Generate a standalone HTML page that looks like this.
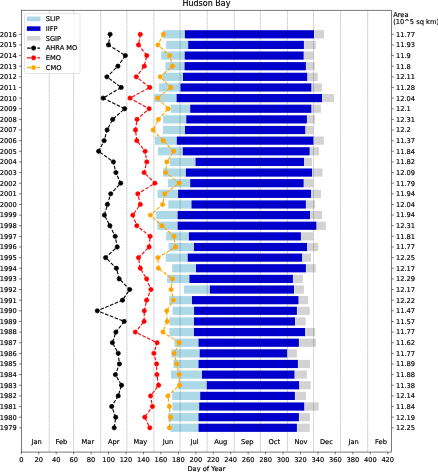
<!DOCTYPE html>
<html><head><meta charset="utf-8"><title>Hudson Bay</title>
<style>html,body{margin:0;padding:0;background:#fff;overflow:hidden}svg{display:block}</style>
</head><body>
<svg width="438" height="472" viewBox="0 0 438 472" font-family="'DejaVu Sans', 'Liberation Sans', sans-serif" font-size="6.68" fill="#000"><style>text{stroke:#000;stroke-width:0.16px;stroke-linejoin:round}</style>
<rect width="438" height="472" fill="#fff"/>
<g shape-rendering="geometricPrecision">
<rect x="162.90" y="30.20" width="22.00" height="8.2" fill="#add8e6"/>
<rect x="184.90" y="30.20" width="129.10" height="8.2" fill="#0000cd"/>
<rect x="314.25" y="30.20" width="9.75" height="8.2" fill="#d3d3d3"/>
<rect x="166.20" y="40.83" width="22.00" height="8.2" fill="#add8e6"/>
<rect x="188.20" y="40.83" width="115.70" height="8.2" fill="#0000cd"/>
<rect x="304.15" y="40.83" width="11.65" height="8.2" fill="#d3d3d3"/>
<rect x="161.20" y="51.47" width="23.55" height="8.2" fill="#add8e6"/>
<rect x="184.75" y="51.47" width="118.95" height="8.2" fill="#0000cd"/>
<rect x="303.95" y="51.47" width="9.65" height="8.2" fill="#d3d3d3"/>
<rect x="165.40" y="62.10" width="19.15" height="8.2" fill="#add8e6"/>
<rect x="184.55" y="62.10" width="121.35" height="8.2" fill="#0000cd"/>
<rect x="306.15" y="62.10" width="8.55" height="8.2" fill="#d3d3d3"/>
<rect x="162.90" y="72.74" width="20.10" height="8.2" fill="#add8e6"/>
<rect x="183.00" y="72.74" width="124.40" height="8.2" fill="#0000cd"/>
<rect x="307.65" y="72.74" width="10.05" height="8.2" fill="#d3d3d3"/>
<rect x="159.10" y="83.38" width="21.40" height="8.2" fill="#add8e6"/>
<rect x="180.50" y="83.38" width="131.00" height="8.2" fill="#0000cd"/>
<rect x="311.75" y="83.38" width="10.25" height="8.2" fill="#d3d3d3"/>
<rect x="154.40" y="94.01" width="22.20" height="8.2" fill="#add8e6"/>
<rect x="176.60" y="94.01" width="145.40" height="8.2" fill="#0000cd"/>
<rect x="322.25" y="94.01" width="11.85" height="8.2" fill="#d3d3d3"/>
<rect x="170.60" y="104.64" width="19.60" height="8.2" fill="#add8e6"/>
<rect x="190.20" y="104.64" width="121.30" height="8.2" fill="#0000cd"/>
<rect x="311.75" y="104.64" width="9.05" height="8.2" fill="#d3d3d3"/>
<rect x="163.20" y="115.28" width="23.10" height="8.2" fill="#add8e6"/>
<rect x="186.30" y="115.28" width="120.60" height="8.2" fill="#0000cd"/>
<rect x="307.15" y="115.28" width="7.85" height="8.2" fill="#d3d3d3"/>
<rect x="163.00" y="125.91" width="22.00" height="8.2" fill="#add8e6"/>
<rect x="185.00" y="125.91" width="120.40" height="8.2" fill="#0000cd"/>
<rect x="305.65" y="125.91" width="7.55" height="8.2" fill="#d3d3d3"/>
<rect x="154.90" y="136.55" width="21.90" height="8.2" fill="#add8e6"/>
<rect x="176.80" y="136.55" width="136.70" height="8.2" fill="#0000cd"/>
<rect x="313.75" y="136.55" width="10.05" height="8.2" fill="#d3d3d3"/>
<rect x="158.00" y="147.19" width="24.75" height="8.2" fill="#add8e6"/>
<rect x="182.75" y="147.19" width="126.95" height="8.2" fill="#0000cd"/>
<rect x="309.95" y="147.19" width="9.05" height="8.2" fill="#d3d3d3"/>
<rect x="169.85" y="157.82" width="25.65" height="8.2" fill="#add8e6"/>
<rect x="195.50" y="157.82" width="108.70" height="8.2" fill="#0000cd"/>
<rect x="304.45" y="157.82" width="7.55" height="8.2" fill="#d3d3d3"/>
<rect x="163.00" y="168.46" width="22.90" height="8.2" fill="#add8e6"/>
<rect x="185.90" y="168.46" width="126.30" height="8.2" fill="#0000cd"/>
<rect x="312.45" y="168.46" width="10.05" height="8.2" fill="#d3d3d3"/>
<rect x="168.00" y="179.09" width="22.20" height="8.2" fill="#add8e6"/>
<rect x="190.20" y="179.09" width="113.50" height="8.2" fill="#0000cd"/>
<rect x="303.95" y="179.09" width="9.25" height="8.2" fill="#d3d3d3"/>
<rect x="157.50" y="189.72" width="20.60" height="8.2" fill="#add8e6"/>
<rect x="178.10" y="189.72" width="133.10" height="8.2" fill="#0000cd"/>
<rect x="311.45" y="189.72" width="9.55" height="8.2" fill="#d3d3d3"/>
<rect x="168.30" y="200.36" width="23.20" height="8.2" fill="#add8e6"/>
<rect x="191.50" y="200.36" width="114.40" height="8.2" fill="#0000cd"/>
<rect x="306.15" y="200.36" width="8.85" height="8.2" fill="#d3d3d3"/>
<rect x="156.20" y="210.99" width="21.40" height="8.2" fill="#add8e6"/>
<rect x="177.60" y="210.99" width="132.40" height="8.2" fill="#0000cd"/>
<rect x="310.25" y="210.99" width="11.75" height="8.2" fill="#d3d3d3"/>
<rect x="157.40" y="221.63" width="20.20" height="8.2" fill="#add8e6"/>
<rect x="177.60" y="221.63" width="138.90" height="8.2" fill="#0000cd"/>
<rect x="316.75" y="221.63" width="9.05" height="8.2" fill="#d3d3d3"/>
<rect x="166.30" y="232.27" width="22.60" height="8.2" fill="#add8e6"/>
<rect x="188.90" y="232.27" width="112.00" height="8.2" fill="#0000cd"/>
<rect x="301.15" y="232.27" width="12.05" height="8.2" fill="#d3d3d3"/>
<rect x="168.60" y="242.90" width="25.40" height="8.2" fill="#add8e6"/>
<rect x="194.00" y="242.90" width="113.20" height="8.2" fill="#0000cd"/>
<rect x="307.45" y="242.90" width="10.75" height="8.2" fill="#d3d3d3"/>
<rect x="165.80" y="253.53" width="21.90" height="8.2" fill="#add8e6"/>
<rect x="187.70" y="253.53" width="114.50" height="8.2" fill="#0000cd"/>
<rect x="302.45" y="253.53" width="8.55" height="8.2" fill="#d3d3d3"/>
<rect x="172.10" y="264.17" width="23.90" height="8.2" fill="#add8e6"/>
<rect x="196.00" y="264.17" width="109.90" height="8.2" fill="#0000cd"/>
<rect x="306.15" y="264.17" width="9.55" height="8.2" fill="#d3d3d3"/>
<rect x="167.10" y="274.80" width="22.30" height="8.2" fill="#add8e6"/>
<rect x="189.40" y="274.80" width="103.50" height="8.2" fill="#0000cd"/>
<rect x="293.15" y="274.80" width="9.75" height="8.2" fill="#d3d3d3"/>
<rect x="183.90" y="285.44" width="25.90" height="8.2" fill="#add8e6"/>
<rect x="209.80" y="285.44" width="84.30" height="8.2" fill="#0000cd"/>
<rect x="294.35" y="285.44" width="9.55" height="8.2" fill="#d3d3d3"/>
<rect x="169.30" y="296.07" width="22.70" height="8.2" fill="#add8e6"/>
<rect x="192.00" y="296.07" width="106.60" height="8.2" fill="#0000cd"/>
<rect x="298.85" y="296.07" width="9.35" height="8.2" fill="#d3d3d3"/>
<rect x="172.60" y="306.71" width="21.50" height="8.2" fill="#add8e6"/>
<rect x="194.10" y="306.71" width="102.80" height="8.2" fill="#0000cd"/>
<rect x="297.15" y="306.71" width="12.55" height="8.2" fill="#d3d3d3"/>
<rect x="169.50" y="317.34" width="24.50" height="8.2" fill="#add8e6"/>
<rect x="194.00" y="317.34" width="101.10" height="8.2" fill="#0000cd"/>
<rect x="295.35" y="317.34" width="10.35" height="8.2" fill="#d3d3d3"/>
<rect x="169.50" y="327.98" width="24.50" height="8.2" fill="#add8e6"/>
<rect x="194.00" y="327.98" width="111.20" height="8.2" fill="#0000cd"/>
<rect x="305.45" y="327.98" width="9.75" height="8.2" fill="#d3d3d3"/>
<rect x="174.40" y="338.62" width="24.10" height="8.2" fill="#add8e6"/>
<rect x="198.50" y="338.62" width="100.40" height="8.2" fill="#0000cd"/>
<rect x="299.15" y="338.62" width="16.85" height="8.2" fill="#d3d3d3"/>
<rect x="171.30" y="349.25" width="28.40" height="8.2" fill="#add8e6"/>
<rect x="199.70" y="349.25" width="87.40" height="8.2" fill="#0000cd"/>
<rect x="287.35" y="349.25" width="9.55" height="8.2" fill="#d3d3d3"/>
<rect x="173.40" y="359.88" width="25.10" height="8.2" fill="#add8e6"/>
<rect x="198.50" y="359.88" width="99.40" height="8.2" fill="#0000cd"/>
<rect x="298.15" y="359.88" width="11.85" height="8.2" fill="#d3d3d3"/>
<rect x="170.90" y="370.52" width="31.10" height="8.2" fill="#add8e6"/>
<rect x="202.00" y="370.52" width="92.60" height="8.2" fill="#0000cd"/>
<rect x="294.85" y="370.52" width="12.05" height="8.2" fill="#d3d3d3"/>
<rect x="178.00" y="381.15" width="28.80" height="8.2" fill="#add8e6"/>
<rect x="206.80" y="381.15" width="92.50" height="8.2" fill="#0000cd"/>
<rect x="299.55" y="381.15" width="11.15" height="8.2" fill="#d3d3d3"/>
<rect x="172.20" y="391.79" width="28.00" height="8.2" fill="#add8e6"/>
<rect x="200.20" y="391.79" width="94.70" height="8.2" fill="#0000cd"/>
<rect x="295.15" y="391.79" width="10.75" height="8.2" fill="#d3d3d3"/>
<rect x="172.40" y="402.42" width="26.80" height="8.2" fill="#add8e6"/>
<rect x="199.20" y="402.42" width="105.20" height="8.2" fill="#0000cd"/>
<rect x="304.65" y="402.42" width="14.05" height="8.2" fill="#d3d3d3"/>
<rect x="168.20" y="413.06" width="30.30" height="8.2" fill="#add8e6"/>
<rect x="198.50" y="413.06" width="100.40" height="8.2" fill="#0000cd"/>
<rect x="299.15" y="413.06" width="10.75" height="8.2" fill="#d3d3d3"/>
<rect x="170.50" y="423.69" width="28.00" height="8.2" fill="#add8e6"/>
<rect x="198.50" y="423.69" width="98.40" height="8.2" fill="#0000cd"/>
<rect x="297.15" y="423.69" width="12.55" height="8.2" fill="#d3d3d3"/>
</g>
<g stroke="#000" stroke-width="0.97" stroke-dasharray="0.97 1.6" stroke-opacity="0.14">
<line x1="49.22" y1="10.2" x2="49.22" y2="452.05"/>
<line x1="73.65" y1="10.2" x2="73.65" y2="452.05"/>
<line x1="100.70" y1="10.2" x2="100.70" y2="452.05"/>
<line x1="126.87" y1="10.2" x2="126.87" y2="452.05"/>
<line x1="153.92" y1="10.2" x2="153.92" y2="452.05"/>
<line x1="180.10" y1="10.2" x2="180.10" y2="452.05"/>
<line x1="207.14" y1="10.2" x2="207.14" y2="452.05"/>
<line x1="234.19" y1="10.2" x2="234.19" y2="452.05"/>
<line x1="260.37" y1="10.2" x2="260.37" y2="452.05"/>
<line x1="287.41" y1="10.2" x2="287.41" y2="452.05"/>
<line x1="313.59" y1="10.2" x2="313.59" y2="452.05"/>
<line x1="340.64" y1="10.2" x2="340.64" y2="452.05"/>
<line x1="367.68" y1="10.2" x2="367.68" y2="452.05"/>
</g>
<g stroke="#000" stroke-width="0.97" stroke-opacity="0.13">
<line x1="49.22" y1="10.2" x2="49.22" y2="452.05"/>
<line x1="73.65" y1="10.2" x2="73.65" y2="452.05"/>
<line x1="100.70" y1="10.2" x2="100.70" y2="452.05"/>
<line x1="126.87" y1="10.2" x2="126.87" y2="452.05"/>
<line x1="153.92" y1="10.2" x2="153.92" y2="452.05"/>
<line x1="180.10" y1="10.2" x2="180.10" y2="452.05"/>
<line x1="207.14" y1="10.2" x2="207.14" y2="452.05"/>
<line x1="234.19" y1="10.2" x2="234.19" y2="452.05"/>
<line x1="260.37" y1="10.2" x2="260.37" y2="452.05"/>
<line x1="287.41" y1="10.2" x2="287.41" y2="452.05"/>
<line x1="313.59" y1="10.2" x2="313.59" y2="452.05"/>
<line x1="340.64" y1="10.2" x2="340.64" y2="452.05"/>
<line x1="367.68" y1="10.2" x2="367.68" y2="452.05"/>
</g>
<polyline points="110.10,34.30 108.50,44.93 125.40,55.57 117.90,66.20 106.90,76.84 121.20,87.47 103.10,98.11 124.70,108.74 112.70,119.38 107.10,130.01 104.10,140.65 98.60,151.28 113.40,161.92 115.90,172.56 120.70,183.19 110.70,193.82 107.40,204.46 104.40,215.09 109.90,225.73 115.20,236.37 117.20,247.00 105.60,257.63 116.40,268.27 119.20,278.90 129.70,289.54 122.50,300.18 97.30,310.81 124.20,321.44 115.90,332.08 112.40,342.72 118.20,353.35 119.40,363.99 115.40,374.62 121.50,385.25 118.20,395.89 111.70,406.52 115.70,417.16 114.20,427.80" fill="none" stroke="#000" stroke-width="1.1" stroke-dasharray="3.59 1.55"/>
<g fill="#000" stroke="#000" stroke-width="0.65">
<circle cx="110.10" cy="34.30" r="2.15"/>
<circle cx="108.50" cy="44.93" r="2.15"/>
<circle cx="125.40" cy="55.57" r="2.15"/>
<circle cx="117.90" cy="66.20" r="2.15"/>
<circle cx="106.90" cy="76.84" r="2.15"/>
<circle cx="121.20" cy="87.47" r="2.15"/>
<circle cx="103.10" cy="98.11" r="2.15"/>
<circle cx="124.70" cy="108.74" r="2.15"/>
<circle cx="112.70" cy="119.38" r="2.15"/>
<circle cx="107.10" cy="130.01" r="2.15"/>
<circle cx="104.10" cy="140.65" r="2.15"/>
<circle cx="98.60" cy="151.28" r="2.15"/>
<circle cx="113.40" cy="161.92" r="2.15"/>
<circle cx="115.90" cy="172.56" r="2.15"/>
<circle cx="120.70" cy="183.19" r="2.15"/>
<circle cx="110.70" cy="193.82" r="2.15"/>
<circle cx="107.40" cy="204.46" r="2.15"/>
<circle cx="104.40" cy="215.09" r="2.15"/>
<circle cx="109.90" cy="225.73" r="2.15"/>
<circle cx="115.20" cy="236.37" r="2.15"/>
<circle cx="117.20" cy="247.00" r="2.15"/>
<circle cx="105.60" cy="257.63" r="2.15"/>
<circle cx="116.40" cy="268.27" r="2.15"/>
<circle cx="119.20" cy="278.90" r="2.15"/>
<circle cx="129.70" cy="289.54" r="2.15"/>
<circle cx="122.50" cy="300.18" r="2.15"/>
<circle cx="97.30" cy="310.81" r="2.15"/>
<circle cx="124.20" cy="321.44" r="2.15"/>
<circle cx="115.90" cy="332.08" r="2.15"/>
<circle cx="112.40" cy="342.72" r="2.15"/>
<circle cx="118.20" cy="353.35" r="2.15"/>
<circle cx="119.40" cy="363.99" r="2.15"/>
<circle cx="115.40" cy="374.62" r="2.15"/>
<circle cx="121.50" cy="385.25" r="2.15"/>
<circle cx="118.20" cy="395.89" r="2.15"/>
<circle cx="111.70" cy="406.52" r="2.15"/>
<circle cx="115.70" cy="417.16" r="2.15"/>
<circle cx="114.20" cy="427.80" r="2.15"/>
</g>
<polyline points="140.30,34.30 138.50,44.93 146.80,55.57 144.30,66.20 136.30,76.84 149.80,87.47 130.00,98.11 149.10,108.74 137.00,119.38 135.50,130.01 136.80,140.65 145.10,151.28 146.80,161.92 144.10,172.56 154.90,183.19 137.80,193.82 140.30,204.46 132.80,215.09 136.80,225.73 150.10,236.37 149.10,247.00 138.50,257.63 140.30,268.27 146.60,278.90 150.90,289.54 146.60,300.18 144.30,310.81 144.10,321.44 135.30,332.08 157.10,342.72 153.90,353.35 156.60,363.99 156.90,374.62 158.60,385.25 150.60,395.89 152.40,406.52 144.80,417.16 149.80,427.80" fill="none" stroke="#f00" stroke-width="1.1" stroke-dasharray="3.59 1.55"/>
<g fill="#f00" stroke="#f00" stroke-width="0.65">
<circle cx="140.30" cy="34.30" r="2.15"/>
<circle cx="138.50" cy="44.93" r="2.15"/>
<circle cx="146.80" cy="55.57" r="2.15"/>
<circle cx="144.30" cy="66.20" r="2.15"/>
<circle cx="136.30" cy="76.84" r="2.15"/>
<circle cx="149.80" cy="87.47" r="2.15"/>
<circle cx="130.00" cy="98.11" r="2.15"/>
<circle cx="149.10" cy="108.74" r="2.15"/>
<circle cx="137.00" cy="119.38" r="2.15"/>
<circle cx="135.50" cy="130.01" r="2.15"/>
<circle cx="136.80" cy="140.65" r="2.15"/>
<circle cx="145.10" cy="151.28" r="2.15"/>
<circle cx="146.80" cy="161.92" r="2.15"/>
<circle cx="144.10" cy="172.56" r="2.15"/>
<circle cx="154.90" cy="183.19" r="2.15"/>
<circle cx="137.80" cy="193.82" r="2.15"/>
<circle cx="140.30" cy="204.46" r="2.15"/>
<circle cx="132.80" cy="215.09" r="2.15"/>
<circle cx="136.80" cy="225.73" r="2.15"/>
<circle cx="150.10" cy="236.37" r="2.15"/>
<circle cx="149.10" cy="247.00" r="2.15"/>
<circle cx="138.50" cy="257.63" r="2.15"/>
<circle cx="140.30" cy="268.27" r="2.15"/>
<circle cx="146.60" cy="278.90" r="2.15"/>
<circle cx="150.90" cy="289.54" r="2.15"/>
<circle cx="146.60" cy="300.18" r="2.15"/>
<circle cx="144.30" cy="310.81" r="2.15"/>
<circle cx="144.10" cy="321.44" r="2.15"/>
<circle cx="135.30" cy="332.08" r="2.15"/>
<circle cx="157.10" cy="342.72" r="2.15"/>
<circle cx="153.90" cy="353.35" r="2.15"/>
<circle cx="156.60" cy="363.99" r="2.15"/>
<circle cx="156.90" cy="374.62" r="2.15"/>
<circle cx="158.60" cy="385.25" r="2.15"/>
<circle cx="150.60" cy="395.89" r="2.15"/>
<circle cx="152.40" cy="406.52" r="2.15"/>
<circle cx="144.80" cy="417.16" r="2.15"/>
<circle cx="149.80" cy="427.80" r="2.15"/>
</g>
<polyline points="163.40,34.30 157.90,44.93 169.70,55.57 172.50,66.20 160.20,76.84 170.70,87.47 157.60,98.11 168.20,108.74 158.40,119.38 153.10,130.01 163.20,140.65 173.70,151.28 166.90,161.92 165.70,172.56 179.20,183.19 164.70,193.82 162.60,204.46 150.40,215.09 161.90,225.73 174.00,236.37 175.50,247.00 157.90,257.63 158.40,268.27 172.50,278.90 171.00,289.54 173.50,300.18 166.70,310.81 167.20,321.44 162.90,332.08 179.15,342.72 174.20,353.35 176.70,363.99 179.20,374.62 179.50,385.25 167.90,395.89 169.40,406.52 170.50,417.16 169.40,427.80" fill="none" stroke="#ffa500" stroke-width="1.1" stroke-dasharray="3.59 1.55"/>
<g fill="#ffa500" stroke="#ffa500" stroke-width="0.65">
<circle cx="163.40" cy="34.30" r="2.15"/>
<circle cx="157.90" cy="44.93" r="2.15"/>
<circle cx="169.70" cy="55.57" r="2.15"/>
<circle cx="172.50" cy="66.20" r="2.15"/>
<circle cx="160.20" cy="76.84" r="2.15"/>
<circle cx="170.70" cy="87.47" r="2.15"/>
<circle cx="157.60" cy="98.11" r="2.15"/>
<circle cx="168.20" cy="108.74" r="2.15"/>
<circle cx="158.40" cy="119.38" r="2.15"/>
<circle cx="153.10" cy="130.01" r="2.15"/>
<circle cx="163.20" cy="140.65" r="2.15"/>
<circle cx="173.70" cy="151.28" r="2.15"/>
<circle cx="166.90" cy="161.92" r="2.15"/>
<circle cx="165.70" cy="172.56" r="2.15"/>
<circle cx="179.20" cy="183.19" r="2.15"/>
<circle cx="164.70" cy="193.82" r="2.15"/>
<circle cx="162.60" cy="204.46" r="2.15"/>
<circle cx="150.40" cy="215.09" r="2.15"/>
<circle cx="161.90" cy="225.73" r="2.15"/>
<circle cx="174.00" cy="236.37" r="2.15"/>
<circle cx="175.50" cy="247.00" r="2.15"/>
<circle cx="157.90" cy="257.63" r="2.15"/>
<circle cx="158.40" cy="268.27" r="2.15"/>
<circle cx="172.50" cy="278.90" r="2.15"/>
<circle cx="171.00" cy="289.54" r="2.15"/>
<circle cx="173.50" cy="300.18" r="2.15"/>
<circle cx="166.70" cy="310.81" r="2.15"/>
<circle cx="167.20" cy="321.44" r="2.15"/>
<circle cx="162.90" cy="332.08" r="2.15"/>
<circle cx="179.15" cy="342.72" r="2.15"/>
<circle cx="174.20" cy="353.35" r="2.15"/>
<circle cx="176.70" cy="363.99" r="2.15"/>
<circle cx="179.20" cy="374.62" r="2.15"/>
<circle cx="179.50" cy="385.25" r="2.15"/>
<circle cx="167.90" cy="395.89" r="2.15"/>
<circle cx="169.40" cy="406.52" r="2.15"/>
<circle cx="170.50" cy="417.16" r="2.15"/>
<circle cx="169.40" cy="427.80" r="2.15"/>
</g>
<rect x="21.3" y="10.2" width="370.30" height="441.85" fill="none" stroke="#000" stroke-width="0.52"/>
<g stroke="#000" stroke-width="0.52">
<line x1="21.30" y1="452.05" x2="21.30" y2="454.31"/>
<line x1="38.75" y1="452.05" x2="38.75" y2="454.31"/>
<line x1="56.20" y1="452.05" x2="56.20" y2="454.31"/>
<line x1="73.65" y1="452.05" x2="73.65" y2="454.31"/>
<line x1="91.10" y1="452.05" x2="91.10" y2="454.31"/>
<line x1="108.55" y1="452.05" x2="108.55" y2="454.31"/>
<line x1="126.00" y1="452.05" x2="126.00" y2="454.31"/>
<line x1="143.45" y1="452.05" x2="143.45" y2="454.31"/>
<line x1="160.90" y1="452.05" x2="160.90" y2="454.31"/>
<line x1="178.35" y1="452.05" x2="178.35" y2="454.31"/>
<line x1="195.80" y1="452.05" x2="195.80" y2="454.31"/>
<line x1="213.25" y1="452.05" x2="213.25" y2="454.31"/>
<line x1="230.70" y1="452.05" x2="230.70" y2="454.31"/>
<line x1="248.15" y1="452.05" x2="248.15" y2="454.31"/>
<line x1="265.60" y1="452.05" x2="265.60" y2="454.31"/>
<line x1="283.05" y1="452.05" x2="283.05" y2="454.31"/>
<line x1="300.50" y1="452.05" x2="300.50" y2="454.31"/>
<line x1="317.95" y1="452.05" x2="317.95" y2="454.31"/>
<line x1="335.40" y1="452.05" x2="335.40" y2="454.31"/>
<line x1="352.85" y1="452.05" x2="352.85" y2="454.31"/>
<line x1="370.30" y1="452.05" x2="370.30" y2="454.31"/>
<line x1="387.75" y1="452.05" x2="387.75" y2="454.31"/>
<line x1="19.04" y1="34.30" x2="21.3" y2="34.30"/>
<line x1="391.6" y1="34.30" x2="393.86" y2="34.30"/>
<line x1="19.04" y1="44.93" x2="21.3" y2="44.93"/>
<line x1="391.6" y1="44.93" x2="393.86" y2="44.93"/>
<line x1="19.04" y1="55.57" x2="21.3" y2="55.57"/>
<line x1="391.6" y1="55.57" x2="393.86" y2="55.57"/>
<line x1="19.04" y1="66.20" x2="21.3" y2="66.20"/>
<line x1="391.6" y1="66.20" x2="393.86" y2="66.20"/>
<line x1="19.04" y1="76.84" x2="21.3" y2="76.84"/>
<line x1="391.6" y1="76.84" x2="393.86" y2="76.84"/>
<line x1="19.04" y1="87.47" x2="21.3" y2="87.47"/>
<line x1="391.6" y1="87.47" x2="393.86" y2="87.47"/>
<line x1="19.04" y1="98.11" x2="21.3" y2="98.11"/>
<line x1="391.6" y1="98.11" x2="393.86" y2="98.11"/>
<line x1="19.04" y1="108.74" x2="21.3" y2="108.74"/>
<line x1="391.6" y1="108.74" x2="393.86" y2="108.74"/>
<line x1="19.04" y1="119.38" x2="21.3" y2="119.38"/>
<line x1="391.6" y1="119.38" x2="393.86" y2="119.38"/>
<line x1="19.04" y1="130.01" x2="21.3" y2="130.01"/>
<line x1="391.6" y1="130.01" x2="393.86" y2="130.01"/>
<line x1="19.04" y1="140.65" x2="21.3" y2="140.65"/>
<line x1="391.6" y1="140.65" x2="393.86" y2="140.65"/>
<line x1="19.04" y1="151.28" x2="21.3" y2="151.28"/>
<line x1="391.6" y1="151.28" x2="393.86" y2="151.28"/>
<line x1="19.04" y1="161.92" x2="21.3" y2="161.92"/>
<line x1="391.6" y1="161.92" x2="393.86" y2="161.92"/>
<line x1="19.04" y1="172.56" x2="21.3" y2="172.56"/>
<line x1="391.6" y1="172.56" x2="393.86" y2="172.56"/>
<line x1="19.04" y1="183.19" x2="21.3" y2="183.19"/>
<line x1="391.6" y1="183.19" x2="393.86" y2="183.19"/>
<line x1="19.04" y1="193.82" x2="21.3" y2="193.82"/>
<line x1="391.6" y1="193.82" x2="393.86" y2="193.82"/>
<line x1="19.04" y1="204.46" x2="21.3" y2="204.46"/>
<line x1="391.6" y1="204.46" x2="393.86" y2="204.46"/>
<line x1="19.04" y1="215.09" x2="21.3" y2="215.09"/>
<line x1="391.6" y1="215.09" x2="393.86" y2="215.09"/>
<line x1="19.04" y1="225.73" x2="21.3" y2="225.73"/>
<line x1="391.6" y1="225.73" x2="393.86" y2="225.73"/>
<line x1="19.04" y1="236.37" x2="21.3" y2="236.37"/>
<line x1="391.6" y1="236.37" x2="393.86" y2="236.37"/>
<line x1="19.04" y1="247.00" x2="21.3" y2="247.00"/>
<line x1="391.6" y1="247.00" x2="393.86" y2="247.00"/>
<line x1="19.04" y1="257.63" x2="21.3" y2="257.63"/>
<line x1="391.6" y1="257.63" x2="393.86" y2="257.63"/>
<line x1="19.04" y1="268.27" x2="21.3" y2="268.27"/>
<line x1="391.6" y1="268.27" x2="393.86" y2="268.27"/>
<line x1="19.04" y1="278.90" x2="21.3" y2="278.90"/>
<line x1="391.6" y1="278.90" x2="393.86" y2="278.90"/>
<line x1="19.04" y1="289.54" x2="21.3" y2="289.54"/>
<line x1="391.6" y1="289.54" x2="393.86" y2="289.54"/>
<line x1="19.04" y1="300.18" x2="21.3" y2="300.18"/>
<line x1="391.6" y1="300.18" x2="393.86" y2="300.18"/>
<line x1="19.04" y1="310.81" x2="21.3" y2="310.81"/>
<line x1="391.6" y1="310.81" x2="393.86" y2="310.81"/>
<line x1="19.04" y1="321.44" x2="21.3" y2="321.44"/>
<line x1="391.6" y1="321.44" x2="393.86" y2="321.44"/>
<line x1="19.04" y1="332.08" x2="21.3" y2="332.08"/>
<line x1="391.6" y1="332.08" x2="393.86" y2="332.08"/>
<line x1="19.04" y1="342.72" x2="21.3" y2="342.72"/>
<line x1="391.6" y1="342.72" x2="393.86" y2="342.72"/>
<line x1="19.04" y1="353.35" x2="21.3" y2="353.35"/>
<line x1="391.6" y1="353.35" x2="393.86" y2="353.35"/>
<line x1="19.04" y1="363.99" x2="21.3" y2="363.99"/>
<line x1="391.6" y1="363.99" x2="393.86" y2="363.99"/>
<line x1="19.04" y1="374.62" x2="21.3" y2="374.62"/>
<line x1="391.6" y1="374.62" x2="393.86" y2="374.62"/>
<line x1="19.04" y1="385.25" x2="21.3" y2="385.25"/>
<line x1="391.6" y1="385.25" x2="393.86" y2="385.25"/>
<line x1="19.04" y1="395.89" x2="21.3" y2="395.89"/>
<line x1="391.6" y1="395.89" x2="393.86" y2="395.89"/>
<line x1="19.04" y1="406.52" x2="21.3" y2="406.52"/>
<line x1="391.6" y1="406.52" x2="393.86" y2="406.52"/>
<line x1="19.04" y1="417.16" x2="21.3" y2="417.16"/>
<line x1="391.6" y1="417.16" x2="393.86" y2="417.16"/>
<line x1="19.04" y1="427.80" x2="21.3" y2="427.80"/>
<line x1="391.6" y1="427.80" x2="393.86" y2="427.80"/>
</g>
<g text-anchor="middle">
<text x="21.30" y="461.9">0</text>
<text x="38.75" y="461.9">20</text>
<text x="56.20" y="461.9">40</text>
<text x="73.65" y="461.9">60</text>
<text x="91.10" y="461.9">80</text>
<text x="108.55" y="461.9">100</text>
<text x="126.00" y="461.9">120</text>
<text x="143.45" y="461.9">140</text>
<text x="160.90" y="461.9">160</text>
<text x="178.35" y="461.9">180</text>
<text x="195.80" y="461.9">200</text>
<text x="213.25" y="461.9">220</text>
<text x="230.70" y="461.9">240</text>
<text x="248.15" y="461.9">260</text>
<text x="265.60" y="461.9">280</text>
<text x="283.05" y="461.9">300</text>
<text x="300.50" y="461.9">320</text>
<text x="317.95" y="461.9">340</text>
<text x="335.40" y="461.9">360</text>
<text x="352.85" y="461.9">380</text>
<text x="370.30" y="461.9">400</text>
<text x="387.75" y="461.9">420</text>
</g>
<g text-anchor="end">
<text x="16.7" y="36.70">2016</text>
<text x="16.7" y="47.33">2015</text>
<text x="16.7" y="57.97">2014</text>
<text x="16.7" y="68.61">2013</text>
<text x="16.7" y="79.24">2012</text>
<text x="16.7" y="89.88">2011</text>
<text x="16.7" y="100.51">2010</text>
<text x="16.7" y="111.14">2009</text>
<text x="16.7" y="121.78">2008</text>
<text x="16.7" y="132.41">2007</text>
<text x="16.7" y="143.05">2006</text>
<text x="16.7" y="153.69">2005</text>
<text x="16.7" y="164.32">2004</text>
<text x="16.7" y="174.96">2003</text>
<text x="16.7" y="185.59">2002</text>
<text x="16.7" y="196.22">2001</text>
<text x="16.7" y="206.86">2000</text>
<text x="16.7" y="217.49">1999</text>
<text x="16.7" y="228.13">1998</text>
<text x="16.7" y="238.77">1997</text>
<text x="16.7" y="249.40">1996</text>
<text x="16.7" y="260.03">1995</text>
<text x="16.7" y="270.67">1994</text>
<text x="16.7" y="281.30">1993</text>
<text x="16.7" y="291.94">1992</text>
<text x="16.7" y="302.57">1991</text>
<text x="16.7" y="313.21">1990</text>
<text x="16.7" y="323.84">1989</text>
<text x="16.7" y="334.48">1988</text>
<text x="16.7" y="345.12">1987</text>
<text x="16.7" y="355.75">1986</text>
<text x="16.7" y="366.38">1985</text>
<text x="16.7" y="377.02">1984</text>
<text x="16.7" y="387.65">1983</text>
<text x="16.7" y="398.29">1982</text>
<text x="16.7" y="408.92">1981</text>
<text x="16.7" y="419.56">1980</text>
<text x="16.7" y="430.19">1979</text>
</g>
<g text-anchor="start">
<text x="396.0" y="36.70">11.77</text>
<text x="396.0" y="47.33">11.93</text>
<text x="396.0" y="57.97">11.9</text>
<text x="396.0" y="68.61">11.8</text>
<text x="396.0" y="79.24">12.11</text>
<text x="396.0" y="89.88">11.28</text>
<text x="396.0" y="100.51">12.04</text>
<text x="396.0" y="111.14">12.1</text>
<text x="396.0" y="121.78">12.31</text>
<text x="396.0" y="132.41">12.2</text>
<text x="396.0" y="143.05">11.37</text>
<text x="396.0" y="153.69">11.84</text>
<text x="396.0" y="164.32">11.82</text>
<text x="396.0" y="174.96">12.09</text>
<text x="396.0" y="185.59">11.79</text>
<text x="396.0" y="196.22">11.94</text>
<text x="396.0" y="206.86">12.04</text>
<text x="396.0" y="217.49">11.94</text>
<text x="396.0" y="228.13">12.31</text>
<text x="396.0" y="238.77">11.81</text>
<text x="396.0" y="249.40">11.77</text>
<text x="396.0" y="260.03">12.25</text>
<text x="396.0" y="270.67">12.17</text>
<text x="396.0" y="281.30">12.29</text>
<text x="396.0" y="291.94">12.17</text>
<text x="396.0" y="302.57">12.22</text>
<text x="396.0" y="313.21">11.47</text>
<text x="396.0" y="323.84">11.57</text>
<text x="396.0" y="334.48">11.77</text>
<text x="396.0" y="345.12">11.62</text>
<text x="396.0" y="355.75">11.77</text>
<text x="396.0" y="366.38">11.89</text>
<text x="396.0" y="377.02">11.88</text>
<text x="396.0" y="387.65">11.38</text>
<text x="396.0" y="398.29">12.14</text>
<text x="396.0" y="408.92">11.84</text>
<text x="396.0" y="419.56">12.19</text>
<text x="396.0" y="430.19">12.25</text>
</g>
<g text-anchor="middle">
<text x="36.70" y="444.1">Jan</text>
<text x="61.44" y="444.1">Feb</text>
<text x="87.87" y="444.1">Mar</text>
<text x="113.78" y="444.1">Apr</text>
<text x="140.40" y="444.1">May</text>
<text x="168.01" y="444.1">Jun</text>
<text x="194.62" y="444.1">Jul</text>
<text x="220.67" y="444.1">Aug</text>
<text x="247.28" y="444.1">Sep</text>
<text x="274.39" y="444.1">Oct</text>
<text x="301.00" y="444.1">Nov</text>
<text x="326.41" y="444.1">Dec</text>
<text x="353.68" y="444.1">Jan</text>
<text x="381.03" y="444.1">Feb</text>
</g>
<text x="206.45" y="470.8" text-anchor="middle">Day of Year</text>
<text x="206.45" y="6.2" text-anchor="middle" font-size="8.0">Hudson Bay</text>
<text x="393.2" y="16.6">Area</text>
<text x="393.2" y="24.1">(10^5 sq km)</text>
<rect x="24.5" y="13.5" width="55.5" height="60.0" rx="1.3" ry="1.3" fill="#fff" fill-opacity="0.8" stroke="#ccc" stroke-opacity="0.8" stroke-width="0.65"/>
<rect x="26.90" y="16.58" width="13.6" height="4.6" fill="#add8e6"/>
<text x="45.72" y="21.23">SLIP</text>
<rect x="26.90" y="26.32" width="13.6" height="4.6" fill="#0000cd"/>
<text x="45.72" y="30.97">IIFP</text>
<rect x="26.90" y="36.06" width="13.6" height="4.6" fill="#d3d3d3"/>
<text x="45.72" y="40.71">SGIP</text>
<line x1="27.10" y1="48.10" x2="40.02" y2="48.10" stroke="#000" stroke-width="1.1" stroke-dasharray="3.59 1.55"/>
<circle cx="33.56" cy="48.10" r="2.15" fill="#000" stroke="#000" stroke-width="0.65"/>
<text x="45.72" y="50.45">AHRA MO</text>
<line x1="27.10" y1="57.84" x2="40.02" y2="57.84" stroke="#f00" stroke-width="1.1" stroke-dasharray="3.59 1.55"/>
<circle cx="33.56" cy="57.84" r="2.15" fill="#f00" stroke="#f00" stroke-width="0.65"/>
<text x="45.72" y="60.19">EMO</text>
<line x1="27.10" y1="67.58" x2="40.02" y2="67.58" stroke="#ffa500" stroke-width="1.1" stroke-dasharray="3.59 1.55"/>
<circle cx="33.56" cy="67.58" r="2.15" fill="#ffa500" stroke="#ffa500" stroke-width="0.65"/>
<text x="45.72" y="69.93">CMO</text>
</svg>
</body></html>
